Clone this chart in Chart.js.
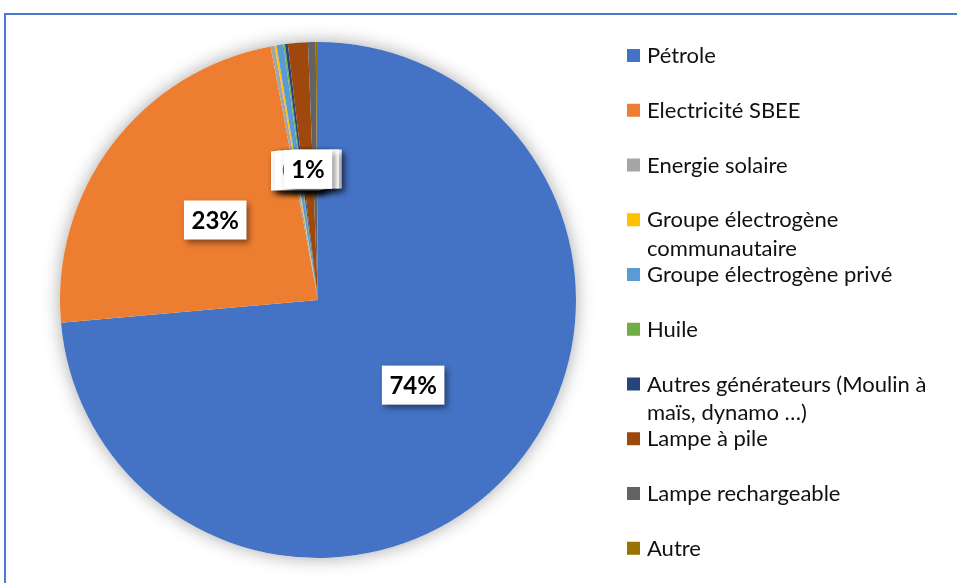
<!DOCTYPE html>
<html>
<head>
<meta charset="utf-8">
<script src="https://cdn.jsdelivr.net/npm/chart.js@4.4.1/dist/chart.umd.min.js"></script>
<style>
  html, body { margin: 0; padding: 0; background: #fff; overflow: hidden; }
  #wrap { position: relative; width: 957px; height: 583px; }
  #frame {
    position: absolute; left: 4px; top: 13px; width: 1200px; height: 1200px;
    border-left: 2px solid #4d7ace; border-top: 2px solid #4d7ace;
    pointer-events: none;
  }
  canvas { position: absolute; left: 0; top: 0; }
</style>
</head>
<body>
<div id="wrap">
  <canvas id="pieChart" width="957" height="583"></canvas>
  <div id="frame"></div>
</div>
<script>
// Categories (legend labels, wrapped like the original)
const categories = [
  'Pétrole',
  'Electricité SBEE',
  'Energie solaire',
  ['Groupe électrogène', 'communautaire'],
  'Groupe électrogène privé',
  'Huile',
  ['Autres générateurs (Moulin à', 'maïs, dynamo …)'],
  'Lampe à pile',
  'Lampe rechargeable',
  'Autre'
];

// Share of households (%)
const shares = [73.6, 23.46, 0.25, 0.12, 0.43, 0.1, 0.17, 1.25, 0.48, 0.14];

const sliceColors = [
  '#4472C4', '#ED7D31', '#A5A5A5', '#FFC000', '#5B9BD5',
  '#70AD47', '#264478', '#9E480E', '#636363', '#997300'
];

// Soft glow under the whole pie (drawn once, not per slice)
const pieShadow = {
  id: 'pieShadow',
  beforeDatasetsDraw(chart) {
    const arc = chart.getDatasetMeta(0).data[0];
    if (!arc) return;
    const ctx = chart.ctx;
    ctx.save();
    ctx.shadowColor = 'rgba(0,0,0,0.35)';
    ctx.shadowBlur = 18;
    ctx.beginPath();
    ctx.arc(arc.x, arc.y, arc.outerRadius, 0, Math.PI * 2);
    ctx.fillStyle = '#fff';
    ctx.fill();
    ctx.restore();
  }
};

// Percent labels in white boxes with a drop shadow
const boxLabels = {
  id: 'boxLabels',
  afterDatasetsDraw(chart) {
    const ctx = chart.ctx;
    const data = chart.data.datasets[0].data;
    const total = data.reduce((a, b) => a + b, 0);
    const arcs = chart.getDatasetMeta(0).data;
    // smallest first, so the bigger labels end up on top
    const order = data.map((v, i) => i).sort((a, b) => data[a] - data[b]);
    ctx.save();
    ctx.font = 'bold 24px Lato';
    ctx.textAlign = 'center';
    ctx.textBaseline = 'middle';
    order.forEach(i => {
      const pos = arcs[i].tooltipPosition();
      const txt = Math.round(data[i] / total * 100) + '%';
      const w = ctx.measureText(txt).width + 15;
      const h = 39;
      ctx.save();
      ctx.shadowColor = 'rgba(0,0,0,0.45)';
      ctx.shadowBlur = 6;
      ctx.shadowOffsetX = 3;
      ctx.shadowOffsetY = 3;
      ctx.fillStyle = '#fff';
      ctx.fillRect(pos.x - w / 2, pos.y - 2 - h / 2, w, h);
      ctx.restore();
      ctx.fillStyle = '#000';
      ctx.fillText(txt, pos.x, pos.y - 1);
    });
    ctx.restore();
  }
};

// Legend on the right, one entry every ~55px
const sideLegend = {
  id: 'sideLegend',
  afterDraw(chart) {
    const ctx = chart.ctx;
    const labels = chart.data.labels;
    const colors = chart.data.datasets[0].backgroundColor;
    ctx.save();
    ctx.font = '22px Lato';
    ctx.textBaseline = 'alphabetic';
    ctx.textAlign = 'left';
    labels.forEach((lab, i) => {
      const cy = 55.5 + i * 54.75;
      ctx.fillStyle = colors[i];
      ctx.fillRect(627, cy - 6.5, 13, 13);
      ctx.fillStyle = '#111';
      const lines = Array.isArray(lab) ? lab : [lab];
      lines.forEach((ln, k) => ctx.fillText(ln, 647, cy + 7.5 + k * 28.3));
    });
    ctx.restore();
  }
};

const ctx = document.getElementById('pieChart').getContext('2d');
new Chart(ctx, {
  type: 'pie',
  data: {
    labels: categories,
    datasets: [{
      data: shares,
      backgroundColor: sliceColors,
      borderWidth: 0
    }]
  },
  options: {
    responsive: false,
    animation: false,
    layout: { padding: { left: 60, right: 381, top: 42, bottom: 25 } },
    plugins: {
      legend: { display: false },
      tooltip: { enabled: false }
    }
  },
  plugins: [pieShadow, boxLabels, sideLegend]
});
</script>
</body>
</html>
